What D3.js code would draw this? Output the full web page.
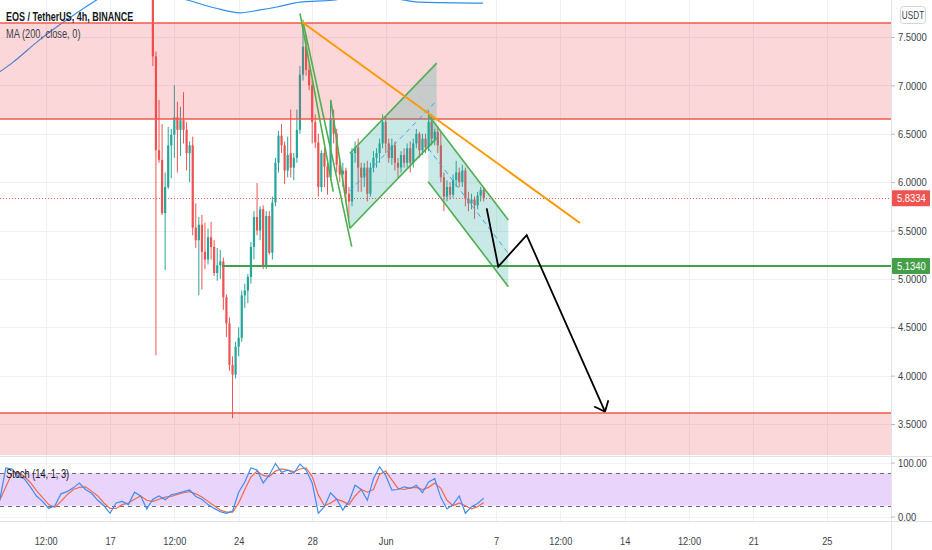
<!DOCTYPE html>
<html>
<head>
<meta charset="utf-8">
<script src="https://cdn.jsdelivr.net/npm/d3@7"></script>
<style>
body { margin: 0; background: #fff; }
svg { display: block; font-family: "Liberation Sans", Arial, sans-serif; }
</style>
</head>
<body>
<div id="chart"></div>
<script>
// 4h candles, first bar opens 2021-05-19 08:00 UTC, [open, high, low, close]
var candleStart = "2021-05-19T08:00Z";
var candles = [
  [8.60,8.90,7.20,7.30],[7.30,7.35,4.21,6.33],[6.33,6.85,6.20,6.23],[6.23,6.60,5.66,5.68],
  [5.68,6.10,5.09,5.95],[5.95,6.57,5.93,6.38],[6.38,6.55,6.04,6.49],[6.49,7.00,6.25,6.67],
  [6.67,6.83,6.10,6.54],[6.54,6.78,6.27,6.64],[6.64,6.93,6.40,6.54],[6.54,6.62,6.12,6.30],
  [6.30,6.42,6.00,6.38],[6.38,6.47,5.45,5.53],[5.53,5.78,5.32,5.40],[5.40,5.64,4.83,5.56],
  [5.56,5.66,4.89,5.28],[5.28,5.58,5.10,5.20],[5.20,5.52,5.15,5.43],[5.43,5.59,5.20,5.33],
  [5.33,5.40,5.03,5.06],[5.06,5.32,4.98,5.14],[5.14,5.30,5.00,5.18],[5.18,5.22,4.68,4.81],
  [4.81,4.84,4.40,4.54],[4.54,4.60,4.05,4.11],[4.11,4.20,3.56,4.01],[4.01,4.35,3.97,4.30],
  [4.30,4.50,4.20,4.39],[4.39,4.88,4.35,4.83],[4.83,4.95,4.70,4.88],[4.88,5.05,4.75,5.02],
  [5.02,5.38,4.95,5.33],[5.33,5.70,5.20,5.64],[5.64,5.99,5.45,5.50],[5.50,5.75,5.40,5.72],
  [5.72,5.76,5.10,5.13],[5.13,5.70,5.10,5.65],[5.65,5.70,5.25,5.27],[5.27,5.85,5.20,5.79],
  [5.79,6.25,5.75,6.20],[6.20,6.53,6.10,6.48],[6.48,6.60,6.30,6.38],[6.38,6.42,5.98,6.12],
  [6.12,6.47,6.05,6.28],[6.30,6.75,6.05,6.15],[6.15,6.30,6.02,6.25],[6.25,6.75,6.20,6.54],
  [6.54,7.20,6.50,7.11],[7.11,7.68,7.05,7.40],[7.40,7.52,7.10,7.16],[7.16,7.22,6.95,7.00],
  [7.00,7.05,6.40,6.62],[6.62,6.70,6.35,6.41],[6.41,6.50,5.85,5.95],[5.95,6.33,5.90,6.30],
  [6.30,6.35,5.95,6.16],[6.16,6.20,5.87,6.05],[6.05,6.85,6.02,6.66],[6.66,6.75,6.40,6.50],
  [6.50,6.55,6.10,6.18],[6.18,6.25,6.00,6.08],[6.08,6.20,5.95,6.12],[6.12,6.15,5.80,5.88],
  [5.88,5.95,5.62,5.80],[5.80,6.35,5.75,6.30],[6.30,6.42,6.20,6.36],[6.36,6.45,5.90,6.15],
  [6.15,6.20,5.90,6.05],[6.05,6.20,5.95,6.15],[6.15,6.22,5.80,5.88],[5.88,6.20,5.85,6.15],
  [6.15,6.32,6.10,6.25],[6.25,6.35,6.15,6.30],[6.30,6.45,6.20,6.40],[6.40,6.70,6.35,6.62],
  [6.62,6.68,6.30,6.40],[6.40,6.45,6.20,6.25],[6.25,6.45,6.18,6.38],[6.38,6.42,6.12,6.20],
  [6.20,6.25,6.05,6.15],[6.15,6.32,6.10,6.28],[6.28,6.35,6.15,6.20],[6.20,6.40,6.15,6.35],
  [6.35,6.42,6.10,6.20],[6.20,6.45,6.15,6.40],[6.40,6.55,6.35,6.50],[6.50,6.52,6.25,6.33],
  [6.33,6.50,6.28,6.45],[6.45,6.50,6.30,6.36],[6.36,6.74,6.32,6.62],[6.62,6.70,6.38,6.45],
  [6.45,6.55,6.38,6.52],[6.52,6.58,6.30,6.38],[6.38,6.52,6.00,6.05],[6.05,6.10,5.70,5.85],
  [5.85,6.02,5.80,5.95],[5.95,6.00,5.82,5.87],[5.87,6.08,5.84,6.02],[6.02,6.22,5.95,6.10],
  [6.10,6.15,5.95,6.00],[6.00,6.18,5.95,6.12],[6.12,6.15,5.75,5.83],[5.83,5.90,5.70,5.78],
  [5.78,5.88,5.72,5.82],[5.82,5.85,5.62,5.76],[5.76,5.90,5.72,5.86],[5.86,5.95,5.80,5.92],
  [5.92,5.95,5.80,5.8334]
];

// Stoch (14, 1, 3), sampled every 8h from 2021-05-11 00:00 UTC
var stochStart = "2021-05-11T00:00Z";
var stochK = [30,90,88,74,70,55,38,28,15,20,42,46,53,62,50,43,30,20,6,25,
              28,22,45,38,14,32,38,31,40,43,46,49,37,32,22,15,9,6,10,45,
              64,90,86,62,77,98,82,86,80,97,86,62,6,18,44,32,12,28,58,50,
              30,70,92,76,49,50,55,52,58,44,64,70,35,14,22,38,6,18,24,34];
var stochD = [30,55,80,82,74,63,48,35,22,17,28,40,50,54,55,47,38,25,15,15,
              22,25,32,38,30,28,32,36,37,41,44,46,42,36,28,20,12,8,8,25,
              50,73,84,76,74,84,88,86,83,88,90,74,40,20,25,32,28,22,38,50,
              45,50,78,84,68,52,50,53,54,50,54,62,52,30,20,25,20,14,18,26];

// MA (200, close)
var maDates = ["2021-05-11T00:00Z","2021-05-11T16:00Z","2021-05-13T04:00Z","2021-05-14T16:00Z",
               "2021-05-16T04:00Z","2021-05-17T00:00Z","2021-05-19T04:00Z","2021-05-21T06:00Z",
               "2021-05-22T17:00Z","2021-05-24T02:00Z","2021-05-25T04:00Z","2021-05-26T02:00Z",
               "2021-05-27T08:00Z","2021-05-29T03:00Z","2021-05-31T04:00Z","2021-06-02T01:00Z",
               "2021-06-02T21:00Z","2021-06-06T07:00Z"];
var maValues = [7.14,7.23,7.47,7.68,7.87,7.96,7.98,7.88,7.80,7.75,7.78,7.81,7.86,7.88,7.95,7.88,7.86,7.85];

// axis ticks
var priceTicks = [7.5, 7.0, 6.5, 6.0, 5.5, 5.0, 4.5, 4.0, 3.5];
var stochTicks = [100, 0];
var stochBands = [80, 20];
var timeTicks = ["2021-05-13T12:00Z","2021-05-17T00:00Z","2021-05-20T12:00Z","2021-05-24T00:00Z",
                 "2021-05-28T00:00Z","2021-06-01T00:00Z","2021-06-07T00:00Z","2021-06-10T12:00Z",
                 "2021-06-14T00:00Z","2021-06-17T12:00Z","2021-06-21T00:00Z","2021-06-25T00:00Z"];
var timeLabels = ["12:00","17","12:00","24","28","Jun","7","12:00","14","12:00","21","25"];

// drawings (time, price)
var zones = [[7.645, 6.652], [3.614, 3.0]];
var trendLine = [["2021-05-27T10:40Z", 7.655], ["2021-06-11T13:40Z", 5.578]];
var poleLines = [
  [["2021-05-27T08:05Z", 7.745], ["2021-05-29T03:30Z", 5.901]],
  [["2021-05-27T12:25Z", 7.642], ["2021-05-30T03:35Z", 5.333]],
  [["2021-05-29T00:10Z", 6.849], ["2021-05-30T01:20Z", 5.523]]
];
// parallel channels: lower line start, lower line end, channel height
var channels = [
  {from: ["2021-05-30T01:20Z", 5.523], to: ["2021-06-03T18:35Z", 6.455], height: 0.775},
  {from: ["2021-06-03T07:35Z", 6.004], to: ["2021-06-07T16:05Z", 4.919], height: 0.69}
];
var projection = [["2021-06-06T11:50Z", 5.729], ["2021-06-07T03:00Z", 5.126],
                  ["2021-06-08T16:05Z", 5.453], ["2021-06-12T22:20Z", 3.627]];
var support = {from: "2021-05-23T02:15Z", price: 5.134};

// the screenshot's type is narrow, so squeeze the glyphs horizontally
function squeeze(sel, k){
  sel.each(function(){
    var n = this.getComputedTextLength();
    d3.select(this).attr("textLength", n * k).attr("lengthAdjust", "spacingAndGlyphs");
  });
}

function main(){
  var W = 932, H = 550,
      plotRight = 891,
      mainBottom = 455,
      stochTop = 457, stochBottom = 522;

  var up = "#26a69a", down = "#ef5350";

  var svg = d3.select("#chart")
    .append("svg")
    .attr("width", W)
    .attr("height", H);

  // scales
  var x = d3.scaleUtc()
    .domain([new Date("2021-05-17T00:00Z"), new Date("2021-06-07T00:00Z")])
    .range([110, 496]);
  var y = d3.scaleLinear().domain([3.5, 7.5]).range([424, 37]);
  var ys = d3.scaleLinear().domain([0, 100]).range([516.5, 462.5]);

  var t0 = new Date(candleStart).getTime();
  var bar = 4 * 3600 * 1000;
  var bw = 2.2;

  var defs = svg.append("defs");
  defs.append("clipPath").attr("id", "clipMain")
    .append("rect").attr("x", 0).attr("y", 0).attr("width", plotRight).attr("height", mainBottom);
  defs.append("clipPath").attr("id", "clipStoch")
    .append("rect").attr("x", 0).attr("y", stochTop).attr("width", plotRight).attr("height", stochBottom - stochTop);

  // grid
  var grid = svg.append("g").attr("stroke", "#eef0f3").attr("stroke-width", 1);
  grid.selectAll(".vg")
    .data(timeTicks)
    .enter()
    .append("line")
      .attr("x1", function(d){ return Math.round(x(new Date(d))) + 0.5; })
      .attr("x2", function(d){ return Math.round(x(new Date(d))) + 0.5; })
      .attr("y1", 0)
      .attr("y2", stochBottom);
  grid.selectAll(".hg")
    .data(priceTicks)
    .enter()
    .append("line")
      .attr("x1", 0).attr("x2", plotRight)
      .attr("y1", function(d){ return Math.round(y(d)) + 0.5; })
      .attr("y2", function(d){ return Math.round(y(d)) + 0.5; });
  grid.selectAll(".sg")
    .data(stochTicks)
    .enter()
    .append("line")
      .attr("x1", 0).attr("x2", plotRight)
      .attr("y1", function(d){ return Math.round(ys(d)) + 0.5; })
      .attr("y2", function(d){ return Math.round(ys(d)) + 0.5; });

  var main = svg.append("g").attr("clip-path", "url(#clipMain)");

  // MA 200
  var maLine = d3.line()
    .x(function(d, i){ return x(new Date(maDates[i])); })
    .y(function(d){ return y(d); })
    .curve(d3.curveMonotoneX);
  main.append("path")
    .datum(maValues)
    .attr("d", maLine)
    .attr("fill", "none")
    .attr("stroke", "#2f8fe8")
    .attr("stroke-width", 1.2);

  // candles
  var cg = main.append("g")
    .selectAll("g")
    .data(candles)
    .enter()
    .append("g")
      .attr("fill", function(d){ return d[3] >= d[0] ? up : down; })
      .attr("stroke", function(d){ return d[3] >= d[0] ? up : down; });
  cg.append("line")
    .attr("x1", function(d, i){ return x(new Date(t0 + i * bar)); })
    .attr("x2", function(d, i){ return x(new Date(t0 + i * bar)); })
    .attr("y1", function(d){ return y(d[1]); })
    .attr("y2", function(d){ return y(d[2]); })
    .attr("stroke-width", 1);
  cg.append("rect")
    .attr("stroke", "none")
    .attr("x", function(d, i){ return x(new Date(t0 + i * bar)) - bw / 2; })
    .attr("width", bw)
    .attr("y", function(d){ return y(Math.max(d[0], d[3])); })
    .attr("height", function(d){ return Math.max(1, Math.abs(y(d[0]) - y(d[3]))); });

  // red zones
  zones.forEach(function(z){
    main.append("rect")
      .attr("x", 0).attr("width", plotRight)
      .attr("y", y(z[0]))
      .attr("height", y(z[1]) - y(z[0]))
      .attr("fill", "rgba(242,54,69,0.2)");
    [z[0], z[1]].forEach(function(p){
      main.append("line")
        .attr("x1", 0).attr("x2", plotRight)
        .attr("y1", y(p)).attr("y2", y(p))
        .attr("stroke", "#ef5a4c")
        .attr("stroke-width", 1.5);
    });
  });

  // parallel channels
  var pt = function(p){ return [x(new Date(p[0])), y(p[1])]; };
  channels.forEach(function(c){
    var a = pt(c.from), b = pt(c.to),
        a2 = pt([c.from[0], c.from[1] + c.height]),
        b2 = pt([c.to[0], c.to[1] + c.height]),
        am = pt([c.from[0], c.from[1] + c.height / 2]),
        bm = pt([c.to[0], c.to[1] + c.height / 2]);
    main.append("path")
      .attr("d", "M" + [a, b, b2, a2].join("L") + "Z")
      .attr("fill", "rgba(38,166,154,0.25)");
    main.append("line")
      .attr("x1", am[0]).attr("y1", am[1]).attr("x2", bm[0]).attr("y2", bm[1])
      .attr("stroke", "#4a9ee8").attr("stroke-width", 1)
      .attr("stroke-dasharray", "5,4");
    [[a, b], [a2, b2]].forEach(function(s){
      main.append("line")
        .attr("x1", s[0][0]).attr("y1", s[0][1]).attr("x2", s[1][0]).attr("y2", s[1][1])
        .attr("stroke", "#4caf50").attr("stroke-width", 1.6);
    });
  });

  // flag pole lines
  poleLines.forEach(function(l){
    var a = pt(l[0]), b = pt(l[1]);
    main.append("line")
      .attr("x1", a[0]).attr("y1", a[1]).attr("x2", b[0]).attr("y2", b[1])
      .attr("stroke", "#4caf50").attr("stroke-width", 1.6);
  });

  // last price dotted line
  var last = candles[candles.length - 1][3];
  main.append("line")
    .attr("x1", 0).attr("x2", plotRight)
    .attr("y1", Math.round(y(last)) + 0.5).attr("y2", Math.round(y(last)) + 0.5)
    .attr("stroke", "#ef5350").attr("stroke-width", 1)
    .attr("stroke-dasharray", "1,2");

  // support level
  main.append("line")
    .attr("x1", x(new Date(support.from))).attr("x2", plotRight)
    .attr("y1", y(support.price)).attr("y2", y(support.price))
    .attr("stroke", "#43a047").attr("stroke-width", 2);

  // descending trend line
  var ta = pt(trendLine[0]), tb = pt(trendLine[1]);
  main.append("line")
    .attr("x1", ta[0]).attr("y1", ta[1]).attr("x2", tb[0]).attr("y2", tb[1])
    .attr("stroke", "#ff9800").attr("stroke-width", 2);

  // projected path with arrow
  var pp = projection.map(pt);
  main.append("path")
    .attr("d", "M" + pp.join("L"))
    .attr("fill", "none")
    .attr("stroke", "#000").attr("stroke-width", 1.8)
    .attr("stroke-linejoin", "miter");
  var tip = pp[pp.length - 1], prev = pp[pp.length - 2];
  var ang = Math.atan2(tip[1] - prev[1], tip[0] - prev[0]);
  [-0.7, 0.7].forEach(function(o){
    main.append("line")
      .attr("x1", tip[0]).attr("y1", tip[1])
      .attr("x2", tip[0] - 12 * Math.cos(ang + o))
      .attr("y2", tip[1] - 12 * Math.sin(ang + o))
      .attr("stroke", "#000").attr("stroke-width", 1.8);
  });

  // stoch pane
  var st = svg.append("g").attr("clip-path", "url(#clipStoch)");
  st.append("rect")
    .attr("x", 0).attr("width", plotRight)
    .attr("y", ys(stochBands[0]))
    .attr("height", ys(stochBands[1]) - ys(stochBands[0]))
    .attr("fill", "#e9d4fc");
  st.selectAll(".band")
    .data(stochBands)
    .enter()
    .append("line")
      .attr("x1", 0).attr("x2", plotRight)
      .attr("y1", function(d){ return Math.round(ys(d)) + 0.5; })
      .attr("y2", function(d){ return Math.round(ys(d)) + 0.5; })
      .attr("stroke", "#6a6d78")
      .attr("stroke-dasharray", "4,4");
  var s0 = new Date(stochStart).getTime(), sStep = 8 * 3600 * 1000;
  var sLine = d3.line()
    .x(function(d, i){ return x(new Date(s0 + i * sStep)); })
    .y(function(d){ return ys(d); });
  st.append("path").datum(stochD).attr("d", sLine)
    .attr("fill", "none").attr("stroke", "#ef6a4a").attr("stroke-width", 1.2);
  st.append("path").datum(stochK).attr("d", sLine)
    .attr("fill", "none").attr("stroke", "#3d8ef2").attr("stroke-width", 1.2);

  // pane separators and price scale border
  svg.append("line").attr("x1", 0).attr("x2", W).attr("y1", 456.5).attr("y2", 456.5).attr("stroke", "#e0e3eb");
  svg.append("line").attr("x1", 0).attr("x2", W).attr("y1", 521.5).attr("y2", 521.5).attr("stroke", "#e0e3eb");
  svg.append("line").attr("x1", plotRight + 0.5).attr("x2", plotRight + 0.5).attr("y1", 0).attr("y2", H).attr("stroke", "#e0e3eb");

  // price axis
  var pAxis = svg.append("g")
    .attr("transform", "translate(" + plotRight + ",0)")
    .call(d3.axisRight(y).tickValues(priceTicks).tickSize(4).tickPadding(3)
      .tickFormat(d3.format(".4f")));
  var sAxis = svg.append("g")
    .attr("transform", "translate(" + plotRight + ",0)")
    .call(d3.axisRight(ys).tickValues(stochTicks).tickSize(4).tickPadding(3)
      .tickFormat(d3.format(".2f")));
  [pAxis, sAxis].forEach(function(g){
    g.select(".domain").remove();
    g.selectAll("line").attr("stroke", "#b8bbc2");
    g.selectAll("text").attr("fill", "#3c3f48").attr("font-size", "11.5px")
      .attr("font-family", null);
    squeeze(g.selectAll("text"), 0.82);
  });

  // time axis
  var tAxis = svg.append("g")
    .attr("transform", "translate(0," + stochBottom + ")")
    .call(d3.axisBottom(x).tickValues(timeTicks.map(function(d){ return new Date(d); }))
      .tickSize(0).tickPadding(15)
      .tickFormat(function(d, i){ return timeLabels[i]; }));
  tAxis.select(".domain").remove();
  tAxis.selectAll("text").attr("fill", "#3c3f48").attr("font-size", "11.5px")
    .attr("font-family", null);
  squeeze(tAxis.selectAll("text"), 0.8);

  // price labels on the scale
  var tags = [[last, down], [support.price, "#43a047"]];
  tags.forEach(function(t){
    svg.append("rect")
      .attr("x", plotRight + 1).attr("y", y(t[0]) - 8)
      .attr("width", W - plotRight - 3).attr("height", 16).attr("rx", 1)
      .attr("fill", t[1]);
    var lt = svg.append("text")
      .attr("x", plotRight + 6).attr("y", y(t[0]) + 4)
      .attr("fill", "#fff").attr("font-size", "11.5px")
      .text(d3.format(".4f")(t[0]));
    squeeze(lt, 0.82);
  });

  // currency box
  svg.append("rect")
    .attr("x", 900.5).attr("y", 6.5).attr("width", 25).attr("height", 17).attr("rx", 3)
    .attr("fill", "#fff").attr("stroke", "#d1d4dc");
  var cur = svg.append("text")
    .attr("x", 913).attr("y", 19).attr("text-anchor", "middle")
    .attr("font-size", "10.5px").attr("fill", "#3c3f48")
    .text("USDT");
  squeeze(cur, 0.78);

  // legends
  var l1 = svg.append("text")
    .attr("x", 6).attr("y", 21)
    .attr("font-size", "12px").attr("font-weight", "bold").attr("fill", "#131722")
    .text("EOS / TetherUS, 4h, BINANCE");
  squeeze(l1, 0.75);
  var l2 = svg.append("text")
    .attr("x", 6).attr("y", 38)
    .attr("font-size", "12px").attr("fill", "#3c3f48")
    .text("MA (200, close, 0)");
  squeeze(l2, 0.77);
  var l3 = svg.append("text")
    .attr("x", 6).attr("y", 478)
    .attr("font-size", "12px").attr("fill", "#131722")
    .text("Stoch (14, 1, 3)");
  squeeze(l3, 0.77);
}
main();
</script>
</body>
</html>
